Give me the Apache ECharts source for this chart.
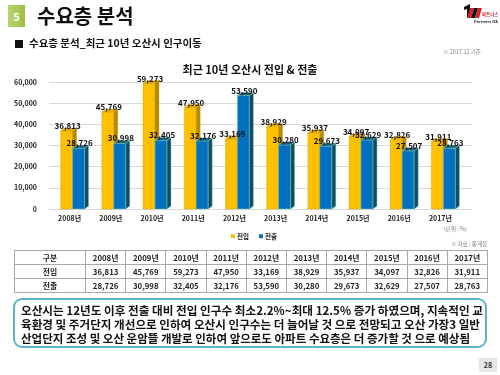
<!DOCTYPE html>
<html>
<head>
<meta charset="utf-8">
<script src="https://cdn.jsdelivr.net/npm/echarts@6/dist/echarts.min.js"></script>
<style>
  html, body { margin: 0; padding: 0; background: #fff; }
  body { font-family: "Noto Sans CJK KR", "Noto Sans", sans-serif; }
  #page { position: relative; width: 500px; height: 375px; overflow: hidden; background: #fff; }
  #chart { position: absolute; left: 0; top: 0; width: 500px; height: 375px; }
  .abs { position: absolute; white-space: nowrap; }
  #numBox { left: 8px; top: 5px; width: 17px; height: 22px; background: linear-gradient(90deg, #b7d46e, #9cbf47);
            color: #fff; font-weight: 700; font-size: 11px; line-height: 22px; text-align: center; }
  #mainTitle { left: 37px; top: 3px; font-size: 20px; font-weight: 700; color: #111; line-height: 26px; }
  #subTitle { left: 15px; top: 36px; font-size: 10.5px; font-weight: 700; color: #111; line-height: 14px; }
  #subTitle b { display: inline-block; width: 8px; height: 8px; background: #111; margin-right: 6px; vertical-align: -1px; }
  #baseDate { left: 443px; top: 48px; font-size: 5.5px; color: #888; }
  #unit { left: 444px; top: 225px; font-size: 5.5px; color: #777; }
  #source { left: 451px; top: 240px; font-size: 5.5px; color: #777; }
  #tbl { position: absolute; left: 14px; top: 250px; border-collapse: collapse; table-layout: fixed; }
  #tbl td { border: 1px solid #a9a9a9; height: 13px; padding: 0; text-align: center; font-size: 7.8px; font-weight: 700;
            color: #222; line-height: 13px; }
  #note { position: absolute; left: 13px; top: 298px; width: 470px; height: 46px; border: 2px solid #5db4c6;
          border-radius: 9px; background: #fff; }
  .line { position: absolute; left: 21px; font-size: 11.5px; font-weight: 700; color: #111; line-height: 14px;
          white-space: nowrap; transform-origin: 0 50%; }
  #pageNo { left: 479px; top: 358px; width: 18px; height: 14px; background: #e6e6e6; font-size: 7px; font-weight: 700;
            color: #333; line-height: 14px; text-align: center; }
</style>
</head>
<body>
<div id="page">
  <div id="chart"></div>

  <div class="abs" id="numBox">5</div>
  <div class="abs" id="mainTitle">수요층 분석</div>
  <div class="abs" id="subTitle"><b></b>수요층 분석_최근 10년 오산시 인구이동</div>
  <div class="abs" id="baseDate">※ 2017.12 기준</div>

  <svg class="abs" style="left:462px;top:4px" width="36" height="20" viewBox="0 0 36 20">
    <polygon points="2,3 8,0 8,14 5,14 5,5 2,6" fill="#111"/>
    <polygon points="8,4 12,4 9,14 5,14" fill="#d2232a"/>
    <polygon points="12,4 16,4 13,14 9,14" fill="#111"/>
    <polygon points="16,4 20,4 17,14 13,14" fill="#d2232a"/>
    <text x="20" y="12" font-size="4.5" font-weight="700" fill="#d2232a" font-family="Noto Sans CJK KR">파트너스</text>
    <text x="12" y="18.5" font-size="4" font-weight="700" fill="#333" font-family="Noto Sans">Partners D&amp;C</text>
  </svg>

  <div class="abs" id="unit">(단위 : %)</div>
  <div class="abs" id="source">※ 자료 : 통계청</div>

  <table id="tbl"></table>

  <div id="note"></div>
  <div class="line" id="l1" style="top:303px">오산시는 12년도 이후 전출 대비 전입 인구수 최소2.2%~최대 12.5% 증가 하였으며, 지속적인 교</div>
  <div class="line" id="l2" style="top:317px">육환경 및 주거단지 개선으로 인하여 오산시 인구수는 더 늘어날 것 으로 전망되고 오산 가장3 일반</div>
  <div class="line" id="l3" style="top:331px">산업단지 조성 및 오산 운암뜰 개발로 인하여 앞으로도 아파트 수요층은 더 증가할 것 으로 예상됨</div>

  <div class="abs" id="pageNo">28</div>
</div>

<script>
// 데이터
var years = ['2008년', '2009년', '2010년', '2011년', '2012년', '2013년', '2014년', '2015년', '2016년', '2017년'];
var inflow = [36813, 45769, 59273, 47950, 33169, 38929, 35937, 34097, 32826, 31911];   // 전입
var outflow = [28726, 30998, 32405, 32176, 53590, 30280, 29673, 32629, 27507, 28763];  // 전출
var seriesNames = ['전입', '전출'];
var yMax = 60000;
var yStep = 10000;

var cjk = '"Noto Sans CJK KR", sans-serif';

function fmt(v) {
	return String(v).replace(/\B(?=(\d{3})+(?!\d))/g, ',');
}

//표 만들기
function buildTable() {
	var tbl = document.getElementById('tbl');
	var html = '<colgroup><col style="width:71px">';
	for (var i = 0; i < years.length; i++) html += '<col style="width:40.2px">';
	html += '</colgroup>';
	html += '<tr><td>구분</td>' + years.map(function (y) { return '<td>' + y + '</td>'; }).join('') + '</tr>';
	html += '<tr><td>' + seriesNames[0] + '</td>' + inflow.map(function (v) { return '<td>' + fmt(v) + '</td>'; }).join('') + '</tr>';
	html += '<tr><td>' + seriesNames[1] + '</td>' + outflow.map(function (v) { return '<td>' + fmt(v) + '</td>'; }).join('') + '</tr>';
	tbl.innerHTML = html;
}

//설명 글 폭 맞추기
function fitLines() {
	var targets = { l1: 462, l2: 459, l3: 449 };
	Object.keys(targets).forEach(function (id) {
		var el = document.getElementById(id);
		var w = el.getBoundingClientRect().width;
		el.style.transform = 'scaleX(' + (targets[id] / w) + ')';
	});
}

// 3D 막대
function bar3d(offset, front, topC, side, edge) {
	return function (params, api) {
		var idx = api.value(0);
		var val = api.value(1);
		var top = api.coord([idx, val]);
		var base = api.coord([idx, 0]);
		var w = 12, d = 4, dv = 3;
		var x0 = top[0] + offset, x1 = x0 + w;
		var yt = top[1], yb = base[1];
		return {
			type: 'group',
			children: [
				{ type: 'rect', shape: { x: x0, y: yt, width: w, height: yb - yt },
				  style: { fill: front, stroke: edge, lineWidth: 0.5 } },
				{ type: 'polygon', shape: { points: [[x0, yt], [x0 + d, yt - dv], [x1 + d, yt - dv], [x1, yt]] },
				  style: { fill: topC, stroke: edge, lineWidth: 0.5 } },
				{ type: 'polygon', shape: { points: [[x1, yt], [x1 + d, yt - dv], [x1 + d, yb - dv], [x1, yb]] },
				  style: { fill: side, stroke: edge, lineWidth: 0.5 } },
				{ type: 'text', z2: 100,
				  style: { text: fmt(val), x: x0 + w / 2 + 1, y: yt - 1, align: 'center', verticalAlign: 'bottom',
				           font: 'bold 8px ' + cjk, fill: '#111' } }
			]
		};
	};
}

function toPoints(arr) {
	return arr.map(function (v, i) { return [i, v]; });
}

var myChart = echarts.init(document.getElementById('chart'), null, { renderer: 'canvas' });
var option = {
	animation: false,
	title: {
		text: '최근 10년 오산시 전입 & 전출',
		left: 'center',
		top: 59,
		textStyle: { fontSize: 11, fontWeight: 'bold', color: '#111', fontFamily: cjk }
	},
	legend: {
		data: seriesNames,
		left: 226,
		top: 228,
		icon: 'rect',
		itemWidth: 4,
		itemHeight: 4,
		itemGap: 10,
		textStyle: { fontSize: 6.5, fontWeight: 'bold', color: '#222', fontFamily: cjk, padding: [0, 0, 0, -3] }
	},
	grid: [
		{ left: 49, right: 39, top: 82, bottom: 166, containLabel: false },
		// 3D 뒷벽 눈금선
		{ left: 49, right: 28, top: 82, bottom: 166, containLabel: false }
	],
	xAxis: [
		{
			type: 'category',
			data: years,
			gridIndex: 0,
			axisLine: { show: false },
			axisTick: { show: false },
			axisLabel: { fontSize: 7, fontWeight: 'bold', color: '#222', fontFamily: cjk, margin: 6 }
		},
		{ type: 'value', gridIndex: 1, show: false, min: 0, max: 1 }
	],
	yAxis: [
		{
			type: 'value',
			gridIndex: 0,
			min: 0,
			max: yMax,
			interval: yStep,
			axisLine: { show: false },
			axisTick: { show: false },
			axisLabel: { fontSize: 7, fontWeight: 'bold', color: '#222', fontFamily: cjk, margin: 12, formatter: fmt },
			splitLine: { show: false }
		},
		{
			type: 'value',
			gridIndex: 1,
			min: 0,
			max: yMax,
			interval: yStep,
			axisLine: { show: false },
			axisTick: { show: false },
			axisLabel: { show: false },
			splitLine: { lineStyle: { color: '#d9d9d9' } }
		}
	],
	series: [
		{
			name: seriesNames[0],
			type: 'custom',
			itemStyle: { color: '#FFC000' },
			encode: { x: 0, y: 1 },
			renderItem: bar3d(-9, '#FFC000', '#E9A800', '#B88A00', 'rgba(190,150,0,0.6)'),
			data: toPoints(inflow)
		},
		{
			name: seriesNames[1],
			type: 'custom',
			itemStyle: { color: '#0070C0' },
			encode: { x: 0, y: 1 },
			renderItem: bar3d(3, '#0070C0', '#155E7E', '#124D5E', '#7cc8b8'),
			data: toPoints(outflow)
		}
	]
};
myChart.setOption(option);

buildTable();
fitLines();
</script>
</body>
</html>
